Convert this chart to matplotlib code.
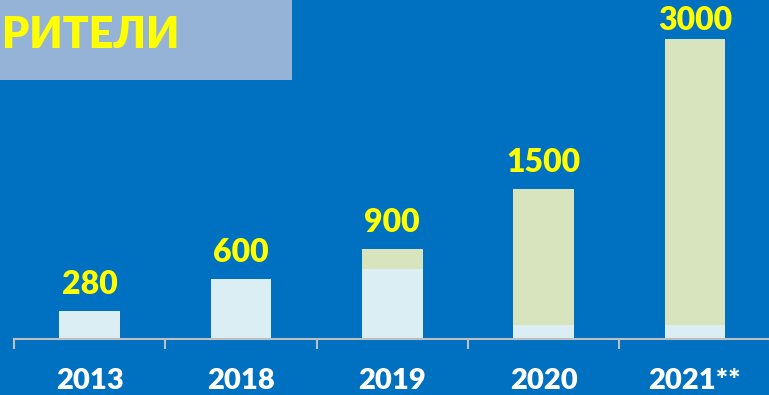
import matplotlib.pyplot as plt
import matplotlib.patches as patches
import numpy as np

years = ["2013", "2018", "2019", "2020", "2021**"]
totals = [280, 600, 900, 1500, 3000]
base_part = [280, 600, 700, 140, 140]
extra_part = [t - b for t, b in zip(totals, base_part)]

bg = "#0070C0"
light = "#DAEEF3"
green = "#D7E4BD"
yellow = "#FFFF00"

plt.rcParams["font.family"] = ["Lato", "DejaVu Sans"]

W, H = 769, 395
fig = plt.figure(figsize=(W / 100, H / 100), dpi=100, facecolor=bg)

# axes spans the category slots; baseline sits at y=339 px from the top
ax = fig.add_axes([14 / W, (H - 339) / H, 756.5 / W, 339 / H])
ax.set_facecolor(bg)
x = np.arange(len(years))
ax.bar(x, base_part, width=0.4, color=light, zorder=2)
ax.bar(x, extra_part, width=0.4, bottom=base_part, color=green, zorder=2)

# value labels; the tallest one sits closer so it stays on the canvas
for xi, t in zip(x, totals):
    gap = 3 if t == max(totals) else 9
    ax.annotate(str(t), (xi, t), xytext=(0, gap), textcoords="offset points",
                ha="center", va="bottom", color=yellow, fontsize=23,
                fontweight="heavy")

ax.set_xlim(-0.5, 4.5)
ax.set_ylim(0, 3390)
for s in ["top", "right", "left"]:
    ax.spines[s].set_visible(False)
ax.spines["bottom"].set_color("#BFBFBF")
ax.spines["bottom"].set_linewidth(1.5)
ax.set_yticks([])
ax.set_xticks(x)
ax.set_xticklabels(years, color="white", fontsize=21, fontweight="heavy")
ax.tick_params(axis="x", which="major", length=0, pad=21)
ax.set_xticks(np.arange(-0.5, 5, 1), minor=True)
ax.tick_params(axis="x", which="minor", length=7, width=1.5, color="#BFBFBF",
               direction="out")

# heading box in the upper left corner
fig.patches.append(patches.Rectangle((0, 1 - 80 / H), 292 / W, 80 / H,
                                     transform=fig.transFigure,
                                     facecolor="#95B3D7", edgecolor="none",
                                     zorder=0))
fig.text(2 / W, 1 - 35 / H, "РИТЕЛИ", color=yellow, fontsize=31,
         fontweight="heavy", ha="left", va="center")

fig.savefig("out.png", dpi=100, facecolor=bg)
